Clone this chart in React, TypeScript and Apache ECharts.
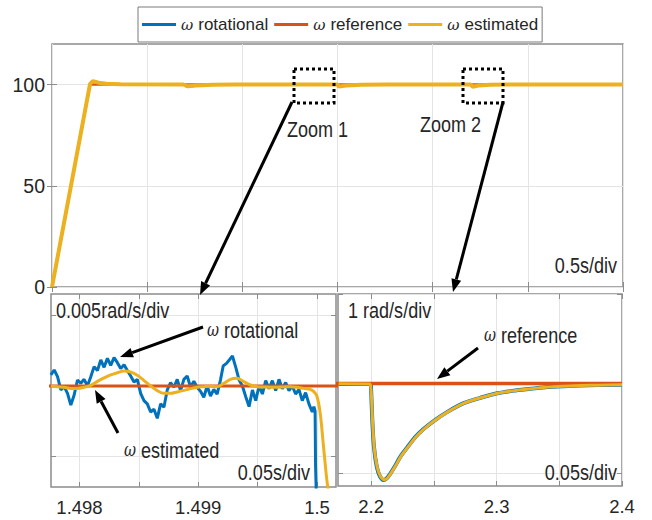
import React, { useEffect, useRef } from "react";
import * as echarts from "echarts";

const BLUE = "#0072BD";
const RED = "#D95319";
const YELLOW = "#EDB120";
const FRAME = "#8c8c8c";
const GRIDLINE = "#e4e4e4";
const TEXT = "#262626";
const FONT = "Liberation Sans";
// annotation text is set tall and narrow
const NARROW = 0.82;

const seriesNames = ["rotational", "reference", "estimated"];

// Full run, 0–3 s
const runRefTime = [0, 0.2, 3.0];
const runRefSpeed = [0, 100, 100];
const runRotTime = [0, 0.2, 0.212, 0.24, 0.28, 0.35, 0.69, 0.71, 0.75, 0.84, 0.95, 1.5, 1.505, 1.54, 1.62, 1.75, 2.2, 2.21, 2.24, 2.3, 2.4, 2.6, 3.0];
const runRotSpeed = [0, 100.4, 101.7, 101.0, 100.4, 100.1, 100, 99.0, 99.4, 99.85, 100, 100, 98.9, 99.5, 99.85, 100, 100, 98.93, 99.45, 99.89, 99.985, 100, 100];
const runEstTime = [0, 0.2, 0.215, 0.245, 0.285, 0.36, 0.69, 0.715, 0.755, 0.845, 0.96, 1.5, 1.507, 1.545, 1.625, 1.76, 2.2, 2.21, 2.24, 2.3, 2.4, 2.6, 3.0];
const runEstSpeed = [0, 100.3, 101.6, 100.9, 100.35, 100.1, 100, 99.1, 99.45, 99.85, 100, 100, 98.95, 99.5, 99.85, 100, 100, 98.93, 99.45, 99.89, 99.985, 100, 100];

// Zoom 1: around t = 1.5 s
const zoom1RefTime = [1.4977, 1.5002];
const zoom1RefSpeed = [100, 100];
const zoom1RotTime = [
  1.497759, 1.497787, 1.497815, 1.497843, 1.497871, 1.497899, 1.497927, 1.497955, 1.497983, 1.498011,
  1.498039, 1.498067, 1.498095, 1.498123, 1.498151, 1.498179, 1.498207, 1.498235, 1.498263, 1.498291,
  1.498319, 1.498347, 1.498375, 1.498403, 1.498431, 1.498459, 1.498487, 1.498515, 1.498543, 1.498571,
  1.498599, 1.498627, 1.498655, 1.498683, 1.498711, 1.498739, 1.498767, 1.498795, 1.498823, 1.498851,
  1.498879, 1.498907, 1.498935, 1.498963, 1.498991, 1.499019, 1.499047, 1.499075, 1.499103, 1.499131,
  1.499159, 1.499187, 1.49921, 1.499238, 1.499266, 1.499288, 1.499316, 1.499344, 1.499372, 1.4994,
  1.499428, 1.499456, 1.499484, 1.499512, 1.49954, 1.499568, 1.499596, 1.499624, 1.499652, 1.49968,
  1.499708, 1.499736, 1.499764, 1.499792, 1.49982, 1.499848, 1.499876, 1.499904, 1.499932, 1.49996,
  1.499974, 1.499984, 1.499988, 1.499994,
];
const zoom1RotSpeed = [
  100.00078, 100.00113, 100.00066, 99.99972, 99.99995, 99.99948, 99.99865, 99.99936, 100.00042, 100.00019,
  100.00047, 100.0, 100.00066, 100.00137, 100.00109, 100.00184, 100.00132, 100.00196, 100.00146, 100.00201,
  100.00165, 100.00123, 100.00151, 100.00109, 100.00071, 100.00028, 100.00047, 99.99948, 99.99896, 99.99873,
  99.99816, 99.99835, 99.99771, 99.99873, 99.99849, 99.99972, 100.00024, 99.99991, 100.00047, 99.99967,
  100.00047, 100.00071, 99.99991, 100.00033, 99.99991, 99.99962, 99.9992, 100.0, 99.99929, 99.99976,
  99.99943, 100.00042, 100.00142, 100.0016, 100.00189, 100.00212, 100.00132, 100.00042, 100.0, 99.99924,
  99.99854, 99.99972, 99.99896, 100.0, 99.99943, 100.00038, 99.99981, 100.00038, 99.99967, 100.00047,
  99.99981, 100.00024, 99.99967, 100.0, 99.99943, 99.99976, 99.99896, 99.99953, 99.99873, 99.99816,
  99.99854, 99.9982, 99.9943, 99.9924,
];
const zoom1EstTime = [
  1.497759, 1.497815, 1.497871, 1.497927, 1.497983, 1.498039, 1.498095, 1.498151, 1.498207, 1.498263,
  1.498319, 1.498375, 1.498431, 1.498487, 1.498543, 1.498599, 1.498655, 1.498711, 1.498767, 1.498823,
  1.498879, 1.498935, 1.498991, 1.499047, 1.499103, 1.499159, 1.499215, 1.499271, 1.499327, 1.499383,
  1.499439, 1.499495, 1.499551, 1.499607, 1.499663, 1.499719, 1.499775, 1.499831, 1.499887, 1.499943,
  1.499971, 1.499999, 1.500027, 1.500055, 1.500083, 1.5001,
];
const zoom1EstSpeed = [
  100.0, 99.99995, 99.99991, 99.99983, 99.99983, 99.99991, 100.00005, 100.00033, 100.00057, 100.00078,
  100.00094, 100.00106, 100.00099, 100.00076, 100.00038, 100.0, 99.99967, 99.99948, 99.99948, 99.99958,
  99.99969, 99.99981, 99.99991, 99.99995, 99.99998, 99.99995, 100.00019, 100.00047, 100.00054, 100.00031,
  100.00007, 99.99995, 99.99993, 99.99991, 99.99991, 99.99993, 99.99995, 99.99991, 99.99983, 99.99976,
  99.99962, 99.99929, 99.99806, 99.9957, 99.99334, 99.9924,
];

// Zoom 2: load step at t = 2.2 s
const zoom2RefTime = [2.17, 2.4];
const zoom2RefSpeed = [100, 100];
const zoom2RotTime = [2.1741, 2.1995, 2.2, 2.2009, 2.2022, 2.2045, 2.2072, 2.2098, 2.2125, 2.2152, 2.2192, 2.2232, 2.2285, 2.2352, 2.2418, 2.2498, 2.2605, 2.2738, 2.2872, 2.3005, 2.3138, 2.3272, 2.3405, 2.3538, 2.3672, 2.3805, 2.4];
const zoom2RotSpeed = [99.995, 99.993, 99.93, 99.6, 99.3, 99.07, 98.955, 98.92, 98.94, 98.99, 99.08, 99.18, 99.28, 99.4, 99.49, 99.58, 99.68, 99.78, 99.84, 99.89, 99.92, 99.94, 99.96, 99.97, 99.978, 99.982, 99.986];
const zoom2EstTime = [2.1741, 2.1989, 2.2, 2.2011, 2.2024, 2.2048, 2.2075, 2.2101, 2.2128, 2.2155, 2.2195, 2.2235, 2.2288, 2.2355, 2.2421, 2.2501, 2.2608, 2.2741, 2.2875, 2.3008, 2.3141, 2.3275, 2.3408, 2.3541, 2.3675, 2.3808, 2.4];
const zoom2EstSpeed = [99.996, 99.993, 99.925, 99.59, 99.29, 99.067, 98.96, 98.925, 98.94, 98.99, 99.08, 99.18, 99.28, 99.4, 99.49, 99.58, 99.68, 99.78, 99.84, 99.89, 99.92, 99.94, 99.96, 99.97, 99.978, 99.98, 99.985];

// Axis ranges and ticks
const runXTicks = [0, 0.5, 1, 1.5, 2, 2.5, 3];
const runYTicks = [0, 50, 100];
const runYLabels = [0, 50, 100];
const zoom1XTicks = [1.498, 1.4985, 1.499, 1.4995, 1.5];
const zoom1XLabels = [1.498, 1.499, 1.5];
const zoom1YTicks = [99.995, 100, 100.005];
const zoom2XTicks = [2.2, 2.25, 2.3, 2.35, 2.4];
const zoom2XLabels = [2.2, 2.3, 2.4];
const zoom2YTicks = [99, 100, 101];

const zip = (t: number[], v: number[]) => t.map((x, i) => [x, v[i]]);

const tickStyle = { inside: true, length: 5, lineStyle: { color: FRAME, width: 1 } };

function xAxes(grid: number, min: number, max: number, ticks: number[], labels: number[] | null) {
  const main: any = {
    type: "value",
    gridIndex: grid,
    position: "bottom",
    min,
    max,
    axisLine: { show: false },
    axisTick: { ...tickStyle, customValues: ticks },
    splitLine: { show: true, lineStyle: { color: GRIDLINE, width: 1 } },
    axisLabel: labels
      ? { show: true, customValues: labels, fontSize: 18.5, color: TEXT, fontFamily: FONT, margin: 11 }
      : { show: false },
  };
  const mirror: any = {
    type: "value",
    gridIndex: grid,
    position: "top",
    min,
    max,
    axisLine: { show: false },
    axisTick: { ...tickStyle, customValues: ticks },
    splitLine: { show: false },
    axisLabel: { show: false },
  };
  return [main, mirror];
}

function yAxes(grid: number, min: number, max: number, ticks: number[], labels: number[] | null) {
  const main: any = {
    type: "value",
    gridIndex: grid,
    position: "left",
    min,
    max,
    axisLine: { show: false },
    axisTick: { ...tickStyle, customValues: ticks },
    splitLine: { show: true, lineStyle: { color: GRIDLINE, width: 1 } },
    axisLabel: labels
      ? { show: true, customValues: labels, fontSize: 19.5, color: TEXT, fontFamily: FONT, margin: 7 }
      : { show: false },
  };
  const mirror: any = {
    type: "value",
    gridIndex: grid,
    position: "right",
    min,
    max,
    axisLine: { show: false },
    axisTick: { ...tickStyle, customValues: ticks },
    splitLine: { show: false },
    axisLabel: { show: false },
  };
  return [main, mirror];
}

function line(name: string, color: string, width: number, data: number[][], axis: number, smooth: number | boolean = false) {
  return {
    type: "line",
    name,
    xAxisIndex: axis,
    yAxisIndex: axis,
    data,
    showSymbol: false,
    symbol: "none",
    smooth,
    lineStyle: { color, width },
    itemStyle: { color },
    z: 3,
  };
}

function arrow(x1: number, y1: number, x2: number, y2: number) {
  const ang = Math.atan2(y2 - y1, x2 - x1);
  const len = 13;
  const half = 5;
  const bx = x2 - len * Math.cos(ang);
  const by = y2 - len * Math.sin(ang);
  const px = -Math.sin(ang) * half;
  const py = Math.cos(ang) * half;
  return [
    { type: "line", shape: { x1, y1, x2: bx, y2: by }, style: { stroke: "#000", lineWidth: 3 }, z: 20 },
    {
      type: "polygon",
      shape: { points: [[x2, y2], [bx + px, by + py], [bx - px, by - py]] },
      style: { fill: "#000" },
      z: 20,
    },
  ];
}

const omegaRich = {
  w: { fontStyle: "italic", fontFamily: "DejaVu Serif", fontSize: 18, color: TEXT },
  t: { fontFamily: FONT, fontSize: 22, color: TEXT },
};

function label(x: number, y: number, text: string, align: "left" | "right" = "left") {
  return {
    type: "text",
    x,
    y,
    scaleX: NARROW,
    z: 20,
    style: {
      text,
      align,
      verticalAlign: "middle",
      fontFamily: FONT,
      fontSize: 22,
      fill: TEXT,
      rich: omegaRich,
    },
  };
}

function dottedBox(x: number, y: number, w: number, h: number) {
  return {
    type: "rect",
    shape: { x, y, width: w, height: h },
    style: { fill: "none", stroke: "#000", lineWidth: 3, lineDash: [3, 3] },
    z: 20,
  };
}

export default function App() {
  const ref = useRef<HTMLDivElement>(null);

  useEffect(() => {
    if (!ref.current) return;
    const chart = echarts.init(ref.current, undefined, { renderer: "svg" });

    const [x0, x0m] = xAxes(0, 0, 3, runXTicks, null);
    const [x1, x1m] = xAxes(1, 1.49776, 1.50016, zoom1XTicks, zoom1XLabels);
    const [x2, x2m] = xAxes(2, 2.1736, 2.4, zoom2XTicks, zoom2XLabels);
    const [y0, y0m] = yAxes(0, 0, 120, runYTicks, runYLabels);
    const [y1, y1m] = yAxes(1, 99.99285, 100.00651, zoom1YTicks, null);
    const [y2, y2m] = yAxes(2, 98.854, 101.0, zoom2YTicks, null);

    const gridStyle = { show: true, borderColor: FRAME, borderWidth: 1.5, backgroundColor: "#fff", containLabel: false };

    chart.setOption({
      animation: false,
      backgroundColor: "#fff",
      textStyle: { fontFamily: FONT },
      legend: {
        data: seriesNames,
        left: 138,
        top: 7,
        padding: [9, 4, 9, 4],
        itemGap: 6,
        itemWidth: 34,
        itemHeight: 3,
        icon: "rect",
        borderColor: "#7a7a7a",
        borderWidth: 1,
        backgroundColor: "#fff",
        selectedMode: false,
        formatter: (name: string) => `{w|ω}{t|${name}}`,
        textStyle: {
          fontSize: 17,
          color: TEXT,
          fontFamily: FONT,
          rich: {
            w: { fontStyle: "italic", fontFamily: "DejaVu Serif", fontSize: 15, color: TEXT, padding: [0, 5, 0, 0] },
            t: { fontFamily: FONT, fontSize: 17, color: TEXT },
          },
        },
        z: 30,
      },
      grid: [
        { left: 52, top: 44, width: 571, height: 243, ...gridStyle },
        { left: 51, top: 294, width: 285, height: 193, ...gridStyle },
        { left: 338, top: 294, width: 284, height: 192, ...gridStyle },
      ],
      // order: main/mirror pairs, so panel k uses axis index 2k
      xAxis: [x0, x0m, x1, x1m, x2, x2m],
      yAxis: [y0, y0m, y1, y1m, y2, y2m],
      series: [
        line("rotational", BLUE, 2.5, zip(runRotTime, runRotSpeed), 0),
        line("reference", RED, 2.5, zip(runRefTime, runRefSpeed), 0),
        line("estimated", YELLOW, 4, zip(runEstTime, runEstSpeed), 0),

        line("rotational", BLUE, 3, zip(zoom1RotTime, zoom1RotSpeed), 2),
        line("reference", RED, 3, zip(zoom1RefTime, zoom1RefSpeed), 2),
        line("estimated", YELLOW, 3, zip(zoom1EstTime, zoom1EstSpeed), 2, 0.35),

        line("rotational", BLUE, 4, zip(zoom2RotTime, zoom2RotSpeed), 4, 0.2),
        line("reference", RED, 3.5, zip(zoom2RefTime, zoom2RefSpeed), 4),
        line("estimated", YELLOW, 3, zip(zoom2EstTime, zoom2EstSpeed), 4, 0.2),
      ],
      graphic: [
        dottedBox(294, 69, 40, 34),
        dottedBox(463, 69, 40, 34),
        label(287, 129, "Zoom 1"),
        label(420, 124, "Zoom 2"),
        label(617, 265, "0.5s/div", "right"),
        ...arrow(292, 102, 200, 295),
        ...arrow(503, 102, 453, 292),

        label(56, 310, "0.005rad/s/div"),
        label(207, 330, "{w|ω} {t|rotational}"),
        ...arrow(203, 327, 120, 357),
        label(124, 450, "{w|ω} {t|estimated}"),
        ...arrow(118, 433, 95, 390),
        label(310, 472, "0.05s/div", "right"),

        label(348, 310, "1 rad/s/div"),
        label(484, 335, "{w|ω} {t|reference}"),
        ...arrow(478, 348, 437, 379),
        label(617, 472, "0.05s/div", "right"),
      ],
    });

    return () => chart.dispose();
  }, []);

  return (
    <div
      ref={ref}
      style={{ position: "absolute", left: 0, top: 0, width: 652, height: 520, background: "#fff" }}
    />
  );
}
